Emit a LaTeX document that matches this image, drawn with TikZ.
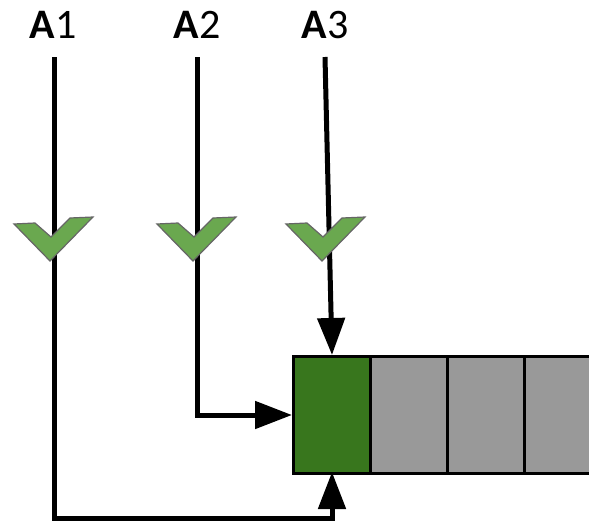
\documentclass[tikz,border=0pt]{standalone}
\usepackage{fontspec}
\setmainfont{Carlito}
\usetikzlibrary{arrows.meta}
\definecolor{chk}{HTML}{6AA84F}
\definecolor{chkline}{HTML}{666666}
\definecolor{dgreen}{HTML}{38761D}
\definecolor{cellgray}{HTML}{999999}
\begin{document}
\begin{tikzpicture}[x=1pt,y=-1pt,
  lbl/.style={anchor=base,inner sep=0pt,font=\fontsize{42}{44}\selectfont},
  cell/.style={draw=black,line width=3pt,minimum width=77pt,minimum height=117pt,inner sep=0pt,anchor=north west},
  conn/.style={line width=5pt,-{Triangle[length=37pt,width=27pt]}},
  check/.style={fill=chk,draw=chkline,line width=1.2pt,line join=miter}]
\useasboundingbox (0,0) rectangle (589,525);
\clip (0,0) rectangle (589,525);
% labels
\node[lbl] (A1) at (53,38) {\textbf{A}1};
\node[lbl] (A2) at (197,38) {\textbf{A}2};
\node[lbl] (A3) at (325,38) {\textbf{A}3};
\coordinate (s1) at (54,57);
\coordinate (s2) at (197,57);
\coordinate (s3) at (325,57);
% cells
\node[cell,fill=dgreen] (g) at (292,355) {};
\node[cell,fill=cellgray] (b1) at (369,355) {};
\node[cell,fill=cellgray] (b2) at (446,355) {};
\node[cell,fill=cellgray] (b3) at (523,355) {};
% connectors
\draw[conn,line join=miter] (s1) |- (332,518) -- (332,472);
\draw[conn,line join=miter] (s2) |- (g.west);
\draw[conn] (s3) -- (332,355);
% checks
\foreach \dx in {0,143,272}{
  \draw[check,xshift=\dx] (14,224) -- (35,223) -- (51,237) -- (70,218) -- (93,217) -- (50,261) -- cycle;
}
\end{tikzpicture}
\end{document}
